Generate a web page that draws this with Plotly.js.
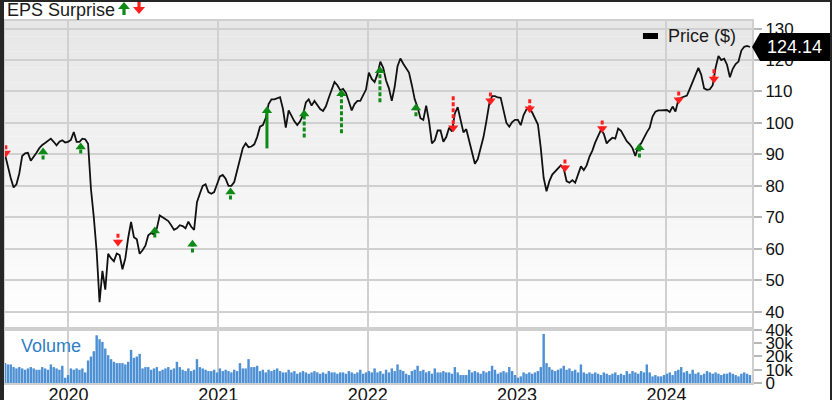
<!DOCTYPE html>
<html><head><meta charset="utf-8">
<script src="https://cdn.plot.ly/plotly-3.0.1.min.js"></script>
<style>
html,body{margin:0;padding:0;background:#262626;width:832px;height:400px;overflow:hidden;}
#chart{position:absolute;left:4px;top:2px;width:826px;height:398px;background:#fff;}
</style></head><body><div id="chart"></div>
<script>
// ---- data ----
const firstWeek = '2019-07-30';
const price = [
 90, 86, 82.5, 79.5, 80.5, 84, 89.5, 90.3, 90.5, 88,
 89.2, 90.5, 92, 93, 93.6, 94.2, 95, 94, 92.9, 94,
 94.5, 93.8, 94, 94.6, 97.1, 94, 94, 95, 94.8, 93.4,
 79, 70, 59, 43, 53, 47, 58.4, 57, 56, 58.5,
 58, 53.5, 57, 63.5, 68.5, 63.7, 63, 58.4, 59.5, 61,
 64.3, 65, 64.5, 66.5, 70.6, 70, 69.3, 68.8, 67.5, 66,
 66.5, 67.5, 67.2, 66.5, 68.6, 67, 66, 74.8, 77.5, 80,
 80.5, 78, 77.5, 78, 80.5, 83, 83.5, 82.3, 80, 80,
 81.2, 84.5, 88.3, 92, 93.5, 92.3, 92.5, 93.2, 95.5, 98.8,
 99.3, 101.5, 106, 107.5, 107.5, 107.8, 108.2, 104.5, 98.5, 104,
 102.2, 100.5, 99.3, 100.5, 102.5, 106.5, 107.5, 105.5, 107, 105.5,
 104.4, 103.8, 105.3, 108, 110.3, 113, 112, 110.4, 110.8, 109.5,
 106.8, 104, 106, 107, 107, 108.8, 110.6, 116, 114, 113,
 115.5, 119.5, 117.5, 113.5, 111, 107, 111.5, 118, 120.5, 118.8,
 117.3, 116, 112, 107.5, 105, 101.5, 101, 105.5, 100.5, 93.5,
 94.5, 97.6, 97.6, 94, 95.5, 98.5, 97.3, 103, 105, 100.5,
 97, 98, 94, 90.5, 87, 88.5, 92, 95.5, 100.5, 106,
 108.5, 108.5, 108.1, 108, 104, 100, 98.8, 100.3, 101, 101,
 99.3, 102.5, 104.3, 104.8, 103.3, 101.4, 99.5, 92, 82.5, 78.3,
 81.5, 83.6, 84.6, 85.8, 86.5, 85.5, 81.5, 81, 81.8, 81,
 83.5, 86.2, 85, 86.5, 89.3, 91.2, 93.8, 96, 97.8, 96.5,
 93.5, 94.5, 95.3, 95, 98.2, 97.5, 95.6, 94.2, 93.3, 92,
 89.5, 92.5, 93.5, 95.5, 97, 98.5, 102, 103.6, 104, 104,
 104.1, 104.1, 103.5, 105.2, 103.6, 107.3, 108, 108.3, 108.7, 110.8,
 113, 115.3, 117.5, 115.3, 111, 110.5, 110.7, 112, 117.5, 121.3,
 120, 120.4, 118.5, 114.5, 117.2, 118.7, 119.5, 123, 124.2, 124.5,
 124.14
];
const volumeK = [
 15, 14, 14, 12, 11, 12, 11, 10, 11, 12,
 11, 10, 10, 12, 11, 10, 14, 12, 11, 10,
 13, 4, 6, 11, 10, 11, 10, 11, 8, 17,
 20, 24, 36, 33, 31, 26, 21, 18, 16, 15,
 15, 15, 14, 16, 25, 19, 20, 22, 11, 12,
 12, 10, 11, 12, 9, 10, 11, 12, 10, 11,
 16, 12, 10, 9, 11, 9, 10, 18, 12, 11,
 10, 9, 9, 10, 8, 11, 9, 10, 9, 8,
 10, 9, 15, 11, 11, 18, 12, 12, 13, 9,
 10, 8, 10, 9, 10, 11, 9, 8, 8, 10,
 8, 9, 7, 8, 9, 8, 7, 8, 9, 8,
 7, 8, 7, 9, 8, 8, 7, 8, 8, 7,
 9, 8, 7, 8, 10, 7, 8, 9, 8, 11,
 8, 9, 7, 10, 8, 11, 9, 14, 10, 9,
 7, 6, 9, 10, 13, 9, 10, 8, 9, 7,
 11, 8, 8, 9, 8, 8, 7, 12, 8, 6,
 6, 6, 10, 8, 9, 8, 7, 9, 8, 9,
 13, 10, 7, 8, 9, 8, 12, 9, 6, 4,
 5, 8, 7, 8, 7, 8, 9, 12, 37, 15,
 12, 10, 9, 10, 11, 13, 10, 11, 9, 10,
 8, 14, 8, 7, 8, 7, 8, 7, 6, 8,
 7, 6, 7, 8, 6, 7, 6, 9, 7, 9,
 8, 7, 9, 8, 14, 8, 5, 6, 5, 5,
 6, 7, 8, 6, 9, 10, 12, 8, 9, 7,
 10, 7, 8, 6, 7, 9, 8, 7, 8, 7,
 6, 7, 7, 8, 7, 6, 5, 7, 8, 7,
 6
];
const epsDates = ['2019-08-01','2019-10-31','2020-01-31','2020-05-01','2020-07-30','2020-10-30','2021-01-31','2021-04-30','2021-07-30','2021-10-29',
                  '2022-01-31','2022-04-29','2022-07-29','2022-10-28','2023-02-01','2023-04-28','2023-07-28','2023-10-27','2024-01-31','2024-04-26'];
const epsBeat  = [false,true,true,false,true,true,true,true,true,true, true,true,false,false,false,false,false,true,false,false];
const epsTip   = [89.0,92.2,93.8,60.7,67.1,62.9,79.5,105.3,104.3,110.7, 118.0,106.2,97.0,105.6,103.1,84.3,96.8,93.5,105.9,112.5];
const epsTail  = [92.9,88.4,90.3,64.8,63.6,58.8,75.7,91.9,95.4,96.7, 106.6,102.1,108.5,109.7,107.5,88.4,100.8,89.0,110.0,117.1];
const epsSolid = [false,false,false,false,false,false,false,true,false,false, false,false,false,false,false,false,false,false,false,false];
const lastPrice = 124.14;
const priceTicks = [40,50,60,70,80,90,100,110,120,130];
const volTicks = [0,10,20,30,40];
const volTickText = ['0','10k','20k','30k','40k'];
const yearTicks = ['2020-01-01','2021-01-01','2022-01-01','2023-01-01','2024-01-01'];
const yearText = ['2020','2021','2022','2023','2024'];

// ---- build ----
function weeklyDates(start, n){
  const out=[]; const d=new Date(start+'T00:00:00Z');
  for(let i=0;i<n;i++){ const t=new Date(d.getTime()+i*7*86400000); out.push(t.toISOString().slice(0,10)); }
  return out;
}
const dates = weeklyDates(firstWeek, price.length);
const volDates = weeklyDates(firstWeek, volumeK.length);

const PX_PER_UNIT = 3.15;          // price axis scale (style helper)
const HEAD = 9, R = HEAD/2;
const GREEN = '#0e8a16', RED = '#ff1e1e';

function stemTrace(beat, solid){
  const x=[], y=[];
  epsDates.forEach((d,i)=>{
    if(epsBeat[i]!==beat || epsSolid[i]!==solid) return;
    const dir = beat?1:-1;
    const center = epsTip[i] - dir*R/PX_PER_UNIT;
    x.push(d,d,null); y.push(epsTail[i], center, null);
  });
  return {type:'scatter', mode:'lines', x, y, xaxis:'x', yaxis:'y', hoverinfo:'skip',
    line:{color: beat?GREEN:RED, width:3, dash: solid?'solid':'4px,2px'}};
}
function headTrace(beat){
  const x=[], y=[];
  epsDates.forEach((d,i)=>{
    if(epsBeat[i]!==beat) return;
    const dir = beat?1:-1;
    x.push(d); y.push(epsTip[i] - dir*R/PX_PER_UNIT);
  });
  return {type:'scatter', mode:'markers', x, y, xaxis:'x', yaxis:'y', hoverinfo:'skip',
    marker:{symbol: beat?'triangle-up':'triangle-down', size:HEAD, color: beat?GREEN:RED, line:{width:0}}};
}

const traces = [
  {type:'bar', x:volDates, y:volumeK, xaxis:'x', yaxis:'y2', marker:{color:'#4d90d3', line:{width:0}}, hoverinfo:'skip'},
  {type:'scatter', mode:'lines', x:dates, y:price, xaxis:'x', yaxis:'y', line:{color:'#111', width:1.8}, hoverinfo:'skip'},
  stemTrace(true,false), stemTrace(true,true), stemTrace(false,false), stemTrace(false,true),
  headTrace(true), headTrace(false)
];

// gradient background for price pane
const shapes = [];
const N = 40, dTop = 1, dBot = 0.1492;
for(let k=0;k<N;k++){
  const v = Math.round(231 + 24*(k/(N-1)));
  shapes.push({type:'rect', xref:'paper', yref:'paper', x0:0, x1:1,
    y1: dTop - (dTop-dBot)*k/N, y0: dTop - (dTop-dBot)*(k+1)/N,
    fillcolor:`rgb(${v},${v},${v})`, line:{width:0}, layer:'below'});
}
// legend swatch
shapes.push({type:'rect', xref:'paper', yref:'paper', x0:0.854, x1:0.8742, y0:0.9503, y1:0.9669, fillcolor:'#000', line:{width:0}, layer:'above'});
// title arrows
shapes.push({type:'path', xref:'paper', yref:'paper', xsizemode:'pixel', ysizemode:'pixel', xanchor:0.1593, yanchor:1.0525,
  path:'M0,0 L6,-7 L1.6,-7 L1.6,-13 L-1.6,-13 L-1.6,-7 L-6,-7 Z', fillcolor:GREEN, line:{width:0}, layer:'above'});
shapes.push({type:'path', xref:'paper', yref:'paper', xsizemode:'pixel', ysizemode:'pixel', xanchor:0.1794, yanchor:1.0193,
  path:'M0,0 L6,7 L1.6,7 L1.6,13 L-1.6,13 L-1.6,7 L-6,7 Z', fillcolor:RED, line:{width:0}, layer:'above'});
// last price callout
shapes.push({type:'path', xref:'paper', yref:'y', xsizemode:'pixel', ysizemode:'pixel', xanchor:1, yanchor:lastPrice,
  path:'M0,0 L8,14 L82,14 L82,-14 L8,-14 Z', fillcolor:'#000', line:{width:0}, layer:'above'});

const FONT = 'Liberation Sans, Arial, Helvetica, sans-serif';
const layout = {
  width:826, height:398,
  margin:{l:1, r:78, t:19, b:17, pad:0},
  paper_bgcolor:'#fff', plot_bgcolor:'#fff',
  showlegend:false, bargap:0.15,
  font:{family:FONT, color:'#111', size:17},
  xaxis:{type:'date', range:['2019-07-30','2024-07-28'], anchor:'y2',
    tickvals:yearTicks, ticktext:yearText, ticks:'', ticklabelstandoff:-6, tickfont:{size:18, color:'#111'},
    showgrid:true, gridcolor:'#d0d0d0', gridwidth:2, zeroline:false,
    showline:true, mirror:'all', linecolor:'#cfcfcf', linewidth:2},
  yaxis:{domain:[0.1492,1], range:[34.5,132.4], side:'right', anchor:'x',
    tickvals:priceTicks, ticks:'outside', ticklen:8, tickwidth:2, tickcolor:'#b8b8b8',
    tickfont:{size:17, color:'#111'},
    showgrid:true, gridcolor:'#d0d0d0', gridwidth:2, zeroline:false,
    showline:true, mirror:true, linecolor:'#cfcfcf', linewidth:2},
  yaxis2:{domain:[0,0.1492], range:[0,40.75], side:'right', anchor:'x',
    tickvals:volTicks, ticktext:volTickText, ticks:'outside', ticklen:8, tickwidth:2, tickcolor:'#b8b8b8',
    tickfont:{size:17, color:'#111'},
    showgrid:false, zeroline:false, showline:true, mirror:true, linecolor:'#cfcfcf', linewidth:2},
  shapes,
  annotations:[
    {xref:'paper', yref:'paper', x:0, y:1.0307, xanchor:'left', yanchor:'middle', showarrow:false,
     text:'EPS Surprise', font:{size:18, color:'#1a1a1a', family:FONT}},
    {xref:'paper', yref:'paper', x:0.8849, y:0.9586, xanchor:'left', yanchor:'middle', showarrow:false,
     text:'Price ($)', font:{size:18, color:'#1a1a1a', family:FONT}},
    {xref:'paper', yref:'paper', x:0.0187, y:0.1022, xanchor:'left', yanchor:'middle', showarrow:false,
     text:'Volume', font:{size:18, color:'#2f7ec5', family:FONT}},
    {xref:'paper', yref:'y', x:1, xshift:42, y:lastPrice, xanchor:'center', yanchor:'middle', showarrow:false,
     text:lastPrice.toFixed(2), font:{size:18, color:'#fff', family:FONT}}
  ]
};
Plotly.newPlot('chart', traces, layout, {staticPlot:true, displayModeBar:false});
</script></body></html>
